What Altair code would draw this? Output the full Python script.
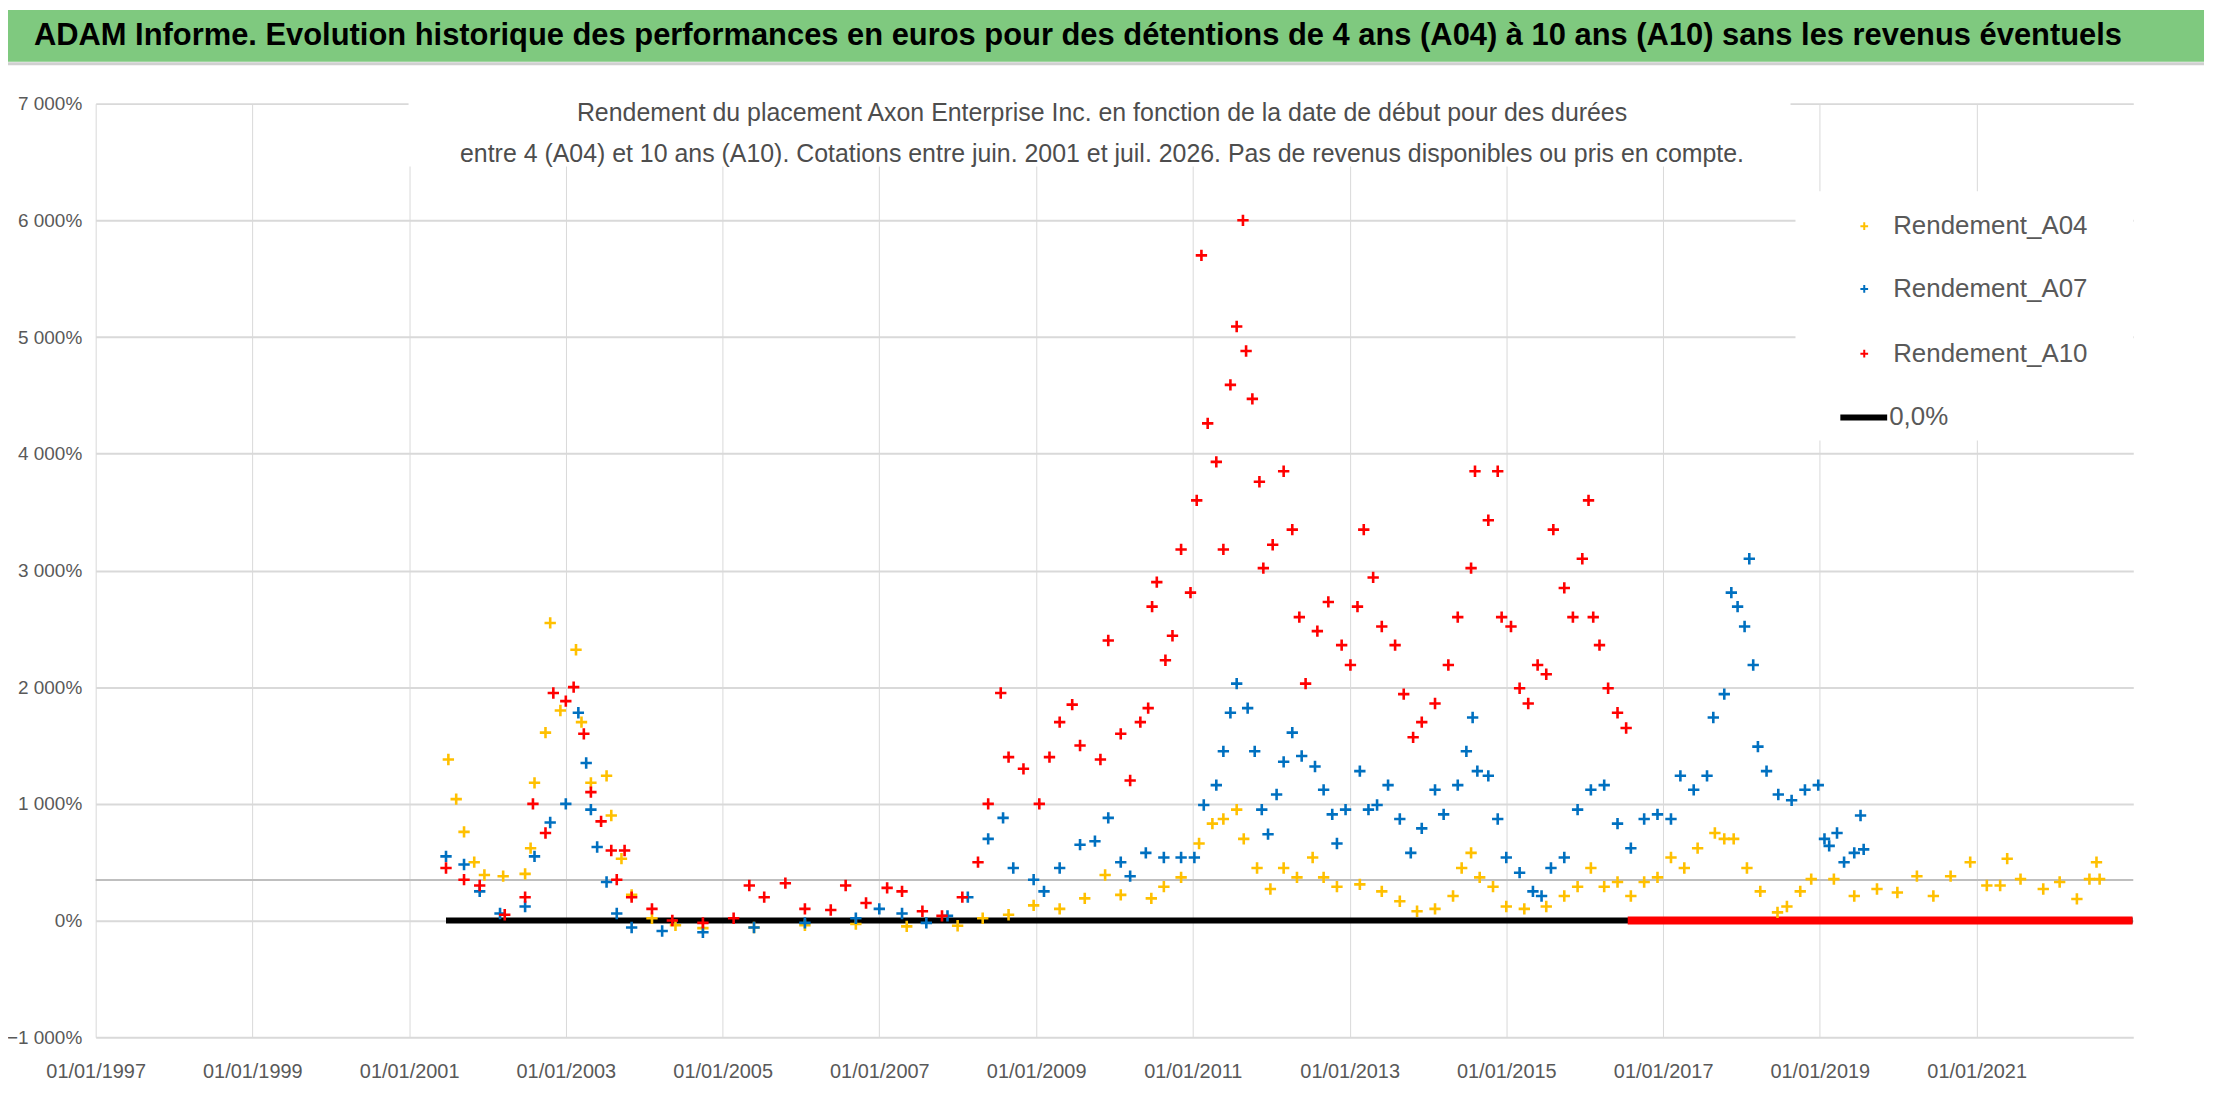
import altair as alt
import pandas as pd

# start dates (decimal years) and returns (%)
a04_t = [2001.5, 2001.6, 2001.7, 2001.83, 2001.96, 2002.2, 2002.48, 2002.55, 2002.6, 2002.74, 2002.8,
         2002.93, 2003.13, 2003.2, 2003.32, 2003.52, 2003.58, 2003.71, 2003.84, 2004.1, 2004.4, 2004.75,
         2005.4, 2006.05, 2006.7, 2007.35, 2008.0, 2008.32, 2008.65, 2008.97, 2009.3, 2009.62, 2009.88,
         2010.08, 2010.47, 2010.63, 2010.85, 2011.08, 2011.25, 2011.39, 2011.56, 2011.65, 2011.82,
         2011.99, 2012.16, 2012.33, 2012.53, 2012.67, 2012.84, 2013.13, 2013.41, 2013.64, 2013.86,
         2014.09, 2014.32, 2014.43, 2014.55, 2014.66, 2014.83, 2015.0, 2015.23, 2015.51, 2015.74,
         2015.91, 2016.08, 2016.25, 2016.42, 2016.59, 2016.76, 2016.93, 2017.1, 2017.27, 2017.44,
         2017.66, 2017.78, 2017.9, 2018.07, 2018.24, 2018.46, 2018.58, 2018.75, 2018.89, 2019.18,
         2019.44, 2019.73, 2019.99, 2020.24, 2020.45, 2020.67, 2020.92, 2021.13, 2021.3, 2021.39,
         2021.56, 2021.85, 2022.06, 2022.28, 2022.44, 2022.53, 2022.57]
a04_v = [1380, 1040, 760, 500, 390, 380, 400, 620, 1180, 1610, 2550,
         1800, 2320, 1700, 1180, 1240, 900, 530, 220, 20, -40, -65,
         -60, -40, -30, -50, -45, 20, 50, 130, 100, 190, 390,
         220, 190, 290, 370, 660, 830, 870, 950, 700, 450,
         270, 450, 370, 540, 370, 290, 310, 250, 165, 80,
         100, 210, 450, 580, 370, 290, 120, 100, 120, 210,
         290, 450, 290, 330, 210, 330, 370, 540, 450, 620,
         750, 700, 700, 450, 250, 70, 120, 250, 355, 355,
         210, 270, 240, 380, 210, 380, 500, 300, 300, 530,
         355, 270, 330, 185, 355, 500, 355]

a07_t = [2001.47, 2001.7, 2001.9, 2002.16, 2002.48, 2002.6, 2002.8, 2003.0, 2003.16, 2003.26, 2003.32,
         2003.4, 2003.52, 2003.65, 2003.84, 2004.23, 2004.75, 2005.4, 2006.05, 2006.7, 2007.0, 2007.29,
         2007.6, 2007.87, 2008.13, 2008.39, 2008.58, 2008.71, 2008.97, 2009.1, 2009.3, 2009.56, 2009.75,
         2009.92, 2010.08, 2010.2, 2010.4, 2010.63, 2010.85, 2011.02, 2011.14, 2011.3, 2011.39, 2011.48,
         2011.56, 2011.7, 2011.79, 2011.88, 2011.96, 2012.07, 2012.16, 2012.27, 2012.39, 2012.56,
         2012.67, 2012.78, 2012.84, 2012.95, 2013.13, 2013.24, 2013.35, 2013.49, 2013.64, 2013.78,
         2013.92, 2014.09, 2014.2, 2014.38, 2014.49, 2014.57, 2014.63, 2014.77, 2014.89, 2015.0,
         2015.17, 2015.34, 2015.45, 2015.57, 2015.74, 2015.91, 2016.08, 2016.25, 2016.42, 2016.59,
         2016.76, 2016.93, 2017.1, 2017.22, 2017.39, 2017.56, 2017.64, 2017.78, 2017.87, 2017.95,
         2018.04, 2018.1, 2018.15, 2018.21, 2018.32, 2018.47, 2018.64, 2018.81, 2018.98, 2019.06,
         2019.12, 2019.22, 2019.31, 2019.44, 2019.52, 2019.56]
a07_v = [550, 480, 250, 60, 120, 550, 840, 1000, 1780, 1350, 950,
         630, 330, 60, -60, -90, -100, -60, -20, 20, 100, 60,
         -20, 40, 200, 700, 880, 450, 350, 250, 450, 650, 680,
         880, 500, 380, 580, 540, 540, 540, 990, 1160, 1450, 1780,
         2030, 1820, 1450, 950, 740, 1080, 1360, 1610, 1410, 1320,
         1120, 910, 660, 950, 1280, 950, 990, 1160, 870, 580,
         790, 1120, 910, 1160, 1450, 1740, 1280, 1240, 870, 540,
         410, 250, 210, 450, 540, 950, 1120, 1160, 830, 620,
         870, 910, 870, 1240, 1120, 1240, 1740, 1940, 2810, 2690,
         2520, 3100, 2190, 1490, 1280, 1080, 1030, 1120, 1160, 700,
         640, 750, 500, 580, 900, 610]

a10_t = [2001.47, 2001.7, 2001.9, 2002.22, 2002.48, 2002.58, 2002.74, 2002.84, 2003.0, 2003.1, 2003.23,
         2003.32, 2003.45, 2003.58, 2003.65, 2003.75, 2003.84, 2004.1, 2004.36, 2004.75, 2005.14,
         2005.34, 2005.53, 2005.8, 2006.05, 2006.38, 2006.57, 2006.83, 2007.1, 2007.29, 2007.55,
         2007.8, 2008.06, 2008.26, 2008.39, 2008.55, 2008.65, 2008.84, 2009.04, 2009.17, 2009.3,
         2009.46, 2009.56, 2009.82, 2009.92, 2010.08, 2010.2, 2010.33, 2010.43, 2010.48, 2010.54,
         2010.65, 2010.74, 2010.85, 2010.97, 2011.05, 2011.11, 2011.19, 2011.3, 2011.39, 2011.48,
         2011.56, 2011.64, 2011.68, 2011.76, 2011.85, 2011.9, 2012.02, 2012.16, 2012.27, 2012.36,
         2012.44, 2012.59, 2012.73, 2012.9, 2013.01, 2013.1, 2013.18, 2013.3, 2013.41, 2013.58,
         2013.69, 2013.81, 2013.92, 2014.09, 2014.26, 2014.38, 2014.55, 2014.6, 2014.77, 2014.89,
         2014.94, 2015.06, 2015.17, 2015.28, 2015.4, 2015.51, 2015.6, 2015.74, 2015.85, 2015.97,
         2016.05, 2016.11, 2016.19, 2016.3, 2016.42, 2016.53]
a10_v = [450, 350, 300, 50, 200, 1000, 750, 1950, 1880, 2000, 1600,
         1100, 850, 600, 350, 600, 200, 100, 0, -20, 20,
         300, 200, 320, 100, 90, 300, 150, 280, 250, 80,
         40, 200, 500, 1000, 1950, 1400, 1300, 1000, 1400, 1700,
         1850, 1500, 1380, 2400, 1600, 1200, 1700, 1820, 2690, 2900,
         2230, 2440, 3180, 2810, 3600, 5700, 4260, 3930, 3180, 4590,
         5090, 6000, 4880, 4470, 3760, 3020, 3220, 3850, 3350, 2600,
         2030, 2480, 2730, 2360, 2190, 2690, 3350, 2940, 2520, 2360,
         1940, 1570, 1700, 1860, 2190, 2600, 3020, 3850, 3430, 3850,
         2600, 2520, 1990, 1860, 2190, 2110, 3350, 2850, 2600, 3100,
         3600, 2600, 2360, 1990, 1780, 1650]

# A10 has no value after mid-2016: drawn at 0 %
a10_zero_span = [2016.55, 2022.99]
zero_span = [2001.47, 2022.99]

series_names = ["Rendement_A04", "Rendement_A07", "Rendement_A10"]
series_colors = ["#FFC000", "#0070C0", "#FF0000"]
y_ticks = [-1000, 0, 1000, 2000, 3000, 4000, 5000, 6000, 7000]
x_tick_years = list(range(1997, 2023, 2))


def to_date(t):
    y = int(t)
    return pd.Timestamp(year=y, month=1, day=1) + pd.Timedelta(days=(t - y) * 365.25)


frames = []
for name, ts, vs in zip(series_names, [a04_t, a07_t, a10_t], [a04_v, a07_v, a10_v]):
    frames.append(pd.DataFrame({"date": [to_date(t) for t in ts], "value": vs, "serie": name}))
df = pd.concat(frames)

W, H = 2045, 937
FONT = "Liberation Sans"
GREY = "#595959"
PLUS = "M-1,0L1,0M0,-1L0,1"

x_scale = alt.Scale(domain=[alt.DateTime(year=1997, month=1, date=1),
                            alt.DateTime(year=2023, month=1, date=1)])
y_scale = alt.Scale(domain=[-1000, 7000])

x_enc = alt.X("date:T", scale=x_scale, title=None,
              axis=alt.Axis(values=[alt.DateTime(year=y, month=1, date=1) for y in x_tick_years],
                            labelExpr="timeFormat(datum.value, '%d/%m/%Y')", labelFlush=False,
                            labelOverlap=False,
                            grid=True, gridColor="#D9D9D9", ticks=False, domain=False,
                            labelFont=FONT, labelFontSize=20, labelColor=GREY, labelPadding=24))
y_enc = alt.Y("value:Q", scale=y_scale, title=None,
              axis=alt.Axis(values=y_ticks,
                            labelExpr="replace(format(datum.value, ',d'), ',', ' ') + '%'",
                            grid=True, gridColor="#D9D9D9", gridWidth=2, ticks=False, domain=False,
                            labelFont=FONT, labelFontSize=19, labelColor=GREY, labelPadding=14))

base = alt.Chart(df)

odd_line = alt.Chart(pd.DataFrame({"v": [347]})).mark_rule(color="#BFBFBF", strokeWidth=2).encode(
    y=alt.Y("v:Q", scale=y_scale))

zero_df = pd.DataFrame({"d1": [to_date(zero_span[0])], "d2": [to_date(zero_span[1])], "v": [0]})
zero_line = alt.Chart(zero_df).mark_rule(color="black", strokeWidth=6).encode(
    x=alt.X("d1:T", scale=x_scale), x2="d2:T", y=alt.Y("v:Q", scale=y_scale))

red_df = pd.DataFrame({"d1": [to_date(a10_zero_span[0])], "d2": [to_date(a10_zero_span[1])], "v": [0]})
red_zero = alt.Chart(red_df).mark_rule(color="#FF0000", strokeWidth=8).encode(
    x=alt.X("d1:T", scale=x_scale), x2="d2:T", y=alt.Y("v:Q", scale=y_scale))

points = base.mark_point(shape=PLUS, filled=False, size=130, strokeWidth=2.6, opacity=1).encode(
    x=x_enc, y=y_enc,
    color=alt.Color("serie:N", scale=alt.Scale(domain=series_names, range=series_colors), legend=None))

# white boxes behind subtitle and legend
box_df = pd.DataFrame({"x1": [314, 1706], "x2": [1701, 2045], "y1": [-12, 88], "y2": [63, 338]})
boxes = alt.Chart(box_df).mark_rect(color="white").encode(
    x=alt.X("x1:Q", scale=None), x2="x2", y=alt.Y("y1:Q", scale=None), y2="y2")

# green title band
band = alt.Chart(pd.DataFrame({"a": [0]})).mark_rect(color="#7FC97F").encode(
    x=alt.value(-88), x2=alt.value(W + 71), y=alt.value(-94), y2=alt.value(-42))
band_line = alt.Chart(pd.DataFrame({"a": [0]})).mark_rule(color="#D0D0D0", strokeWidth=3).encode(
    x=alt.value(-88), x2=alt.value(W + 71), y=alt.value(-40))
title = alt.Chart(pd.DataFrame({"t": ["ADAM Informe. Evolution historique des performances en euros pour des "
                                      "détentions de 4 ans (A04) à 10 ans (A10) sans les revenus éventuels"]})
                  ).mark_text(font=FONT, fontSize=31, fontWeight="bold", color="black", align="left",
                              baseline="middle").encode(x=alt.value(-62), y=alt.value(-68), text="t:N")

sub_lines = ["Rendement du placement Axon Enterprise Inc. en fonction de la date de début pour des durées",
             "entre 4 (A04) et 10 ans (A10). Cotations entre juin. 2001 et juil. 2026. Pas de revenus disponibles ou pris en compte."]
sub_df = pd.DataFrame({"t": sub_lines, "y": [9, 51]})
subtitle = alt.Chart(sub_df).mark_text(font=FONT, fontSize=25, color="#4D4D4D",
                                       baseline="middle").encode(
    x=alt.value(1010), y=alt.Y("y:Q", scale=None), text="t:N")

# legend
leg_df = pd.DataFrame({"serie": series_names, "y": [123, 186, 251]})
leg_marks = alt.Chart(leg_df).mark_point(shape=PLUS, filled=False, size=60, strokeWidth=2, opacity=1).encode(
    x=alt.value(1775), y=alt.Y("y:Q", scale=None),
    color=alt.Color("serie:N", scale=alt.Scale(domain=series_names, range=series_colors), legend=None))
leg_text = alt.Chart(pd.DataFrame({"t": series_names + ["0,0%"], "y": [123, 186, 251, 315],
                                   "x": [1804, 1804, 1804, 1800]})).mark_text(
    font=FONT, fontSize=26, color=GREY, align="left", baseline="middle").encode(
    x=alt.X("x:Q", scale=None), y=alt.Y("y:Q", scale=None), text="t:N")
leg_line = alt.Chart(pd.DataFrame({"a": [0]})).mark_rule(color="black", strokeWidth=6).encode(
    x=alt.value(1751), x2=alt.value(1798), y=alt.value(315))

# rules first so the points sit above them
chart = alt.layer(
    odd_line, zero_line, red_zero, points, boxes, band, band_line, title, subtitle, leg_line, leg_marks, leg_text
).properties(
    width=W, height=H, autosize=alt.AutoSizeParams(type="none"),
    padding={"left": 88, "top": 94, "right": 75, "bottom": 55}
).configure_view(stroke=None)

chart.save("out.html", embed_options={"renderer": "svg", "actions": False})
